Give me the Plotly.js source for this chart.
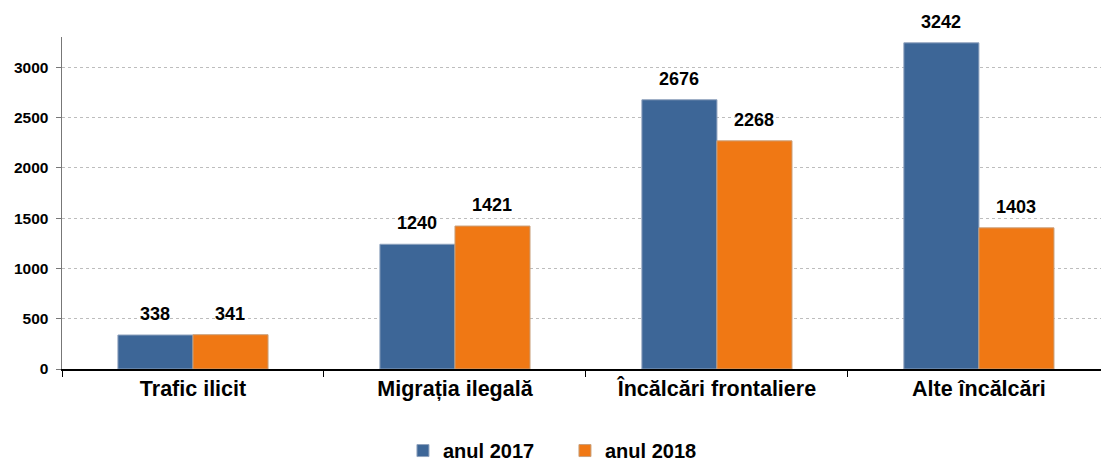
<!DOCTYPE html>
<html>
<head>
<meta charset="utf-8">
<script src="https://cdn.plot.ly/plotly-3.0.1.min.js"></script>
<style>html,body{margin:0;padding:0;background:#fff;overflow:hidden;}</style>
</head>
<body>
<div id="chart" style="width:1101px;height:466px;"></div>
<script>
const categories = ["Trafic ilicit", "Migrația ilegală", "Încălcări frontaliere", "Alte încălcări"];
const seriesNames = ["anul 2017", "anul 2018"];
const values2017 = [338, 1240, 2676, 3242];
const values2018 = [341, 1421, 2268, 1403];
const yTicks = [0, 500, 1000, 1500, 2000, 2500, 3000];

const FONT = "Liberation Sans, Arial, sans-serif";
const BLUE = "#3D6697";
const ORANGE = "#F07814";

const traces = [
  {
    type: "bar", name: seriesNames[0], x: categories, y: values2017,
    marker: {color: BLUE, line: {color: "#8fa2bd", width: 1}},
    hoverinfo: "x+y"
  },
  {
    type: "bar", name: seriesNames[1], x: categories, y: values2018,
    marker: {color: ORANGE, line: {color: "#c9a07c", width: 1}},
    hoverinfo: "x+y"
  }
];

const labelFont = {family: FONT, size: 18, color: "#000", weight: "bold"};
const annotations = [];
categories.forEach((c, i) => {
  annotations.push({x: c, y: values2017[i], text: String(values2017[i]), showarrow: false,
    xshift: -37.5, yshift: 9, yanchor: "bottom", font: labelFont});
  annotations.push({x: c, y: values2018[i], text: String(values2018[i]), showarrow: false,
    xshift: 37.5, yshift: 9, yanchor: "bottom", font: labelFont});
});

const layout = {
  width: 1101, height: 466,
  margin: {l: 62, r: 0, t: 37, b: 97},
  paper_bgcolor: "#fff", plot_bgcolor: "#fff",
  barmode: "group", bargap: 0.427, bargroupgap: 0,
  showlegend: true,
  legend: {
    orientation: "h", xref: "container", yref: "container",
    x: 0.3660, xanchor: "left", y: 0.075, yanchor: "top",
    font: {family: FONT, size: 20, color: "#000", weight: "bold"},
    itemwidth: 30, traceorder: "normal",
    entrywidth: 117, entrywidthmode: "pixels"
  },
  xaxis: {
    type: "category", range: [-0.5, 3.466],
    showline: true, linecolor: "#000", linewidth: 1.5,
    ticks: "outside", tickson: "boundaries", ticklen: 6, tickcolor: "#000", tickwidth: 1,
    showgrid: false, zeroline: false,
    tickfont: {family: FONT, size: 21.5, color: "#000", weight: "bold"},
    fixedrange: true
  },
  yaxis: {
    range: [0, 3300], tickvals: yTicks, ticktext: yTicks.map(String),
    showline: true, linecolor: "#777", linewidth: 1.5,
    ticks: "outside", ticklen: 5, tickcolor: "#777",
    showgrid: true, gridcolor: "#bdbdbd", griddash: "dot", gridwidth: 1,
    zeroline: false,
    tickfont: {family: FONT, size: 15.5, color: "#000", weight: "bold"},
    ticklabelstandoff: 4,
    fixedrange: true
  },
  annotations: annotations
};

Plotly.newPlot("chart", traces, layout, {displayModeBar: false, staticPlot: true});
</script>
</body>
</html>
